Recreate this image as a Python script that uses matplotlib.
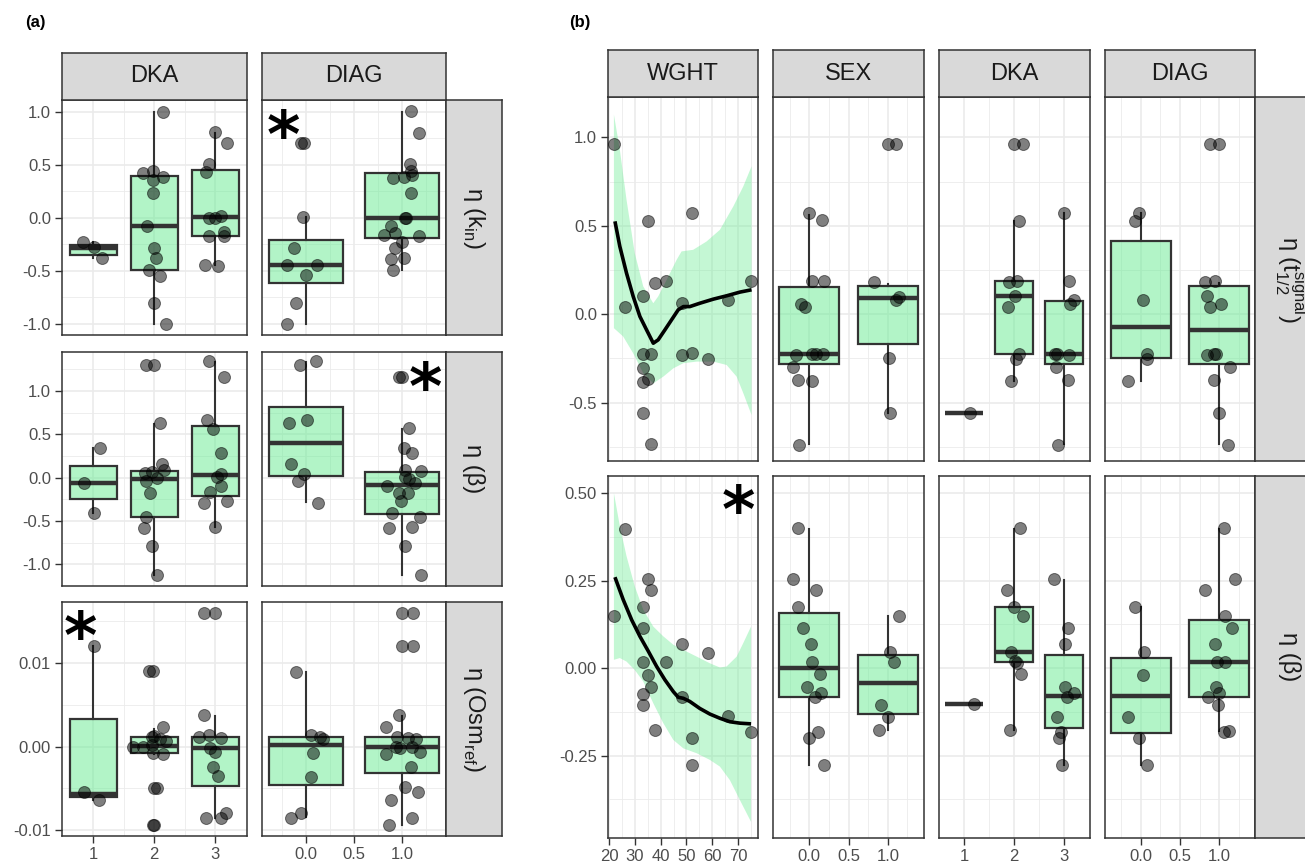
import numpy as np
import matplotlib
matplotlib.use("Agg")
import matplotlib.pyplot as plt

plt.rcParams['font.family'] = ['Liberation Sans', 'DejaVu Sans']
plt.rcParams['mathtext.fontset'] = 'custom'
plt.rcParams['mathtext.rm'] = 'Liberation Sans'
plt.rcParams['axes.unicode_minus'] = False

# ---------------- data ----------------
# box stats per group: [q1, median, q3, whisker low, whisker high]
dka_pos = [1, 2, 3]
bin_pos = [0, 1]

# (a) eta(k_in)
a_kin_dka_x = [0.84, 1.02, 1.15, 1.81, 1.98, 2.14, 1.98, 1.98, 2.14, 1.88, 2.0, 2.03, 1.92, 2.10, 2.0, 2.19,
               3.0, 3.19, 2.9, 2.85, 2.89, 3.0, 3.1, 3.15, 2.9, 3.15, 2.84, 3.04]
a_kin_dka_y = [-0.23, -0.27, -0.38, 0.42, 0.44, 0.39, 0.36, 0.24, 1.0, -0.08, -0.28, -0.38, -0.49, -0.55, -0.80, -1.0,
               0.81, 0.71, 0.51, 0.43, 0.0, 0.0, 0.02, -0.13, -0.17, -0.17, -0.44, -0.45]
a_kin_dka_box = [[-0.346, -0.283, -0.258, -0.38, -0.23],
                 [-0.494, -0.079, 0.393, -1.0, 1.0],
                 [-0.173, 0.009, 0.45, -0.44, 0.80]]
a_kin_diag_x = [-0.05, -0.02, -0.03, -0.13, -0.2, 0.11, 0.0, -0.11, -0.2,
                1.09, 1.18, 1.08, 1.09, 1.11, 0.91, 1.02, 1.09, 1.04, 1.03, 0.89, 0.81, 0.93, 1.18, 1.0, 0.93,
                0.89, 1.02, 0.91]
a_kin_diag_y = [0.71, 0.71, 0.01, -0.28, -0.44, -0.44, -0.54, -0.80, -1.0,
                1.01, 0.80, 0.51, 0.44, 0.41, 0.38, 0.39, 0.24, 0.0, 0.0, -0.08, -0.16, -0.14, -0.17, -0.23, -0.28,
                -0.39, -0.38, -0.49]
a_kin_diag_box = [[-0.613, -0.44, -0.211, -1.0, 0.013],
                  [-0.189, 0.0, 0.425, -0.49, 1.0]]

# (a) eta(beta)
a_beta_dka_x = [0.85, 1.12, 1.01,
                1.87, 2.0, 2.09, 2.12, 2.16, 1.96, 1.85, 1.87, 2.05, 1.93, 1.86, 1.83, 1.97, 2.05,
                2.89, 3.15, 2.86, 2.97, 3.09, 3.1, 3.03, 3.09, 2.92, 2.82, 3.2, 3.0]
a_beta_dka_y = [-0.06, 0.34, -0.41,
                1.30, 1.30, 0.63, 0.16, 0.09, 0.07, 0.05, -0.035, 0.0, -0.18, -0.45, -0.58, -0.79, -1.12,
                1.35, 1.16, 0.67, 0.56, 0.29, 0.04, 0.01, -0.10, -0.17, -0.29, -0.27, -0.57]
a_beta_dka_box = [[-0.246, -0.058, 0.138, -0.41, 0.338],
                  [-0.458, -0.015, 0.077, -1.123, 0.615],
                  [-0.208, 0.031, 0.596, -0.565, 1.338]]
a_beta_diag_x = [-0.06, 0.10, -0.18, 0.01, -0.16, -0.02, -0.08, 0.12,
                 0.97, 1.0, 1.07, 1.02, 1.11, 1.03, 1.2, 1.03, 1.07, 1.14, 0.84, 0.97, 1.06, 0.99, 0.90, 1.19,
                 0.87, 1.10, 1.03, 1.2]
a_beta_diag_y = [1.30, 1.35, 0.63, 0.67, 0.16, 0.04, -0.04, -0.29,
                 1.16, 1.16, 0.57, 0.34, 0.29, 0.09, 0.08, 0.01, -0.015, -0.065, -0.10, -0.18, -0.18, -0.27, -0.41,
                 -0.45, -0.58, -0.565, -0.785, -1.12]
a_beta_diag_box = [[0.023, 0.404, 0.819, -0.285, 1.338],
                   [-0.419, -0.085, 0.062, -1.123, 0.558]]

# (a) eta(Osm_ref)
a_osm_dka_x = [1.02, 0.85, 1.1,
               1.92, 1.98, 2.15, 2.0, 1.96, 2.1, 2.2, 1.66, 1.82, 1.96, 1.98, 2.14, 2.0, 2.04, 1.98, 2.0,
               2.82, 3.0, 2.81, 2.74, 2.9, 3.09, 2.91, 3.0, 2.96, 3.05, 2.85, 3.1, 3.18]
a_osm_dka_y = [0.0120, -0.0054, -0.0064,
               0.0090, 0.0090, 0.0023, 0.0013, 0.0012, 0.0009, 0.0007, -0.0001, 0.0, 0.0002, -0.0008, -0.0009,
               -0.0049, -0.0049, -0.0094, -0.0094,
               0.016, 0.016, 0.00375, 0.00114, 0.00138, 0.00099, -0.00012, -0.00063, -0.00249, -0.00355,
               -0.00852, -0.00852, -0.00789]
a_osm_dka_box = [[-0.00604, -0.0057, 0.00331, -0.0064, 0.012],
                 [-0.00079, 0.00008, 0.00114, -0.0009, 0.00213],
                 [-0.00473, -0.0002, 0.00114, -0.0085, 0.0037]]
a_osm_diag_x = [-0.11, 0.05, 0.15, 0.18, 0.07, 0.05, -0.05, -0.16,
                1.0, 1.12, 1.0, 1.12, 0.97, 0.83, 0.95, 1.06, 1.15, 0.94, 0.83, 0.98, 1.1, 1.19, 1.09, 1.03, 1.17,
                0.89, 1.10, 0.86]
a_osm_diag_y = [0.00895, 0.00138, 0.00114, 0.00087, -0.00071, -0.00359, -0.00793, -0.00852,
                0.016, 0.016, 0.012, 0.012, 0.00375, 0.00233, 0.00118, 0.00107, 0.00087, -0.0001, -0.00083,
                -0.00012, 0.0, -0.0006, -0.00249, -0.00485, -0.00544, -0.00643, -0.00852, -0.00939]
a_osm_diag_box = [[-0.00465, 0.0002, 0.00118, -0.0084, 0.00895],
                  [-0.00316, -0.0001, 0.00118, -0.0094, 0.0037]]

# (b) eta(t1/2 signal)
t_wght_x = [21.8, 26.1, 33.0, 34.9, 33.0, 36.2, 33.0, 33.0, 35.2, 33.0, 36.2, 37.7, 41.9, 48.1, 48.1, 52.0, 52.0,
            58.2, 66.2, 75.1]
t_wght_y = [0.964, 0.043, 0.104, 0.525, -0.225, -0.225, -0.302, -0.381, -0.366, -0.56, -0.736, 0.175, 0.185,
            0.062, -0.23, 0.572, -0.221, -0.253, 0.081, 0.185]
t_fit_x = [22.2, 24.1, 26.7, 29.3, 31.9, 34.5, 37.1, 39.0, 41.6, 44.2, 46.8, 48.8, 51.3, 55.2, 60.4, 65.6, 70.8,
           75.3]
t_fit_y = [0.525, 0.383, 0.232, 0.10, -0.013, -0.089, -0.164, -0.145, -0.089, -0.032, 0.025, 0.043, 0.043,
           0.062, 0.085, 0.104, 0.125, 0.138]
t_hi_x = [21.8, 24.1, 26.7, 29.9, 33.2, 37.1, 39.0, 42.3, 46.2, 48.1, 52.6, 57.8, 63.0, 68.2, 72.1, 75.3]
t_hi_y = [1.128, 0.93, 0.647, 0.345, 0.157, 0.062, 0.10, 0.194, 0.308, 0.355, 0.364, 0.411, 0.477, 0.609,
          0.723, 0.836]
t_lo_x = [21.8, 25.4, 29.3, 33.2, 37.1, 41.0, 44.9, 48.8, 54.0, 60.4, 65.6, 69.5, 72.1, 75.3]
t_lo_y = [-0.079, -0.126, -0.221, -0.334, -0.391, -0.353, -0.306, -0.277, -0.268, -0.268, -0.287, -0.353,
          -0.447, -0.57]
t_sex_x = [0.0, 0.16, 0.04, 0.19, -0.11, -0.05, -0.17, 0.04, 0.09, 0.18, -0.2, -0.14, 0.03, -0.13,
           1.0, 1.11, 0.83, 1.14, 1.11, 1.01, 1.03]
t_sex_y = [0.57, 0.53, 0.185, 0.185, 0.06, 0.043, -0.23, -0.225, -0.225, -0.225, -0.30, -0.37, -0.38, -0.74,
           0.96, 0.96, 0.18, 0.10, 0.08, -0.25, -0.56]
t_sex_box = [[-0.283, -0.225, 0.151, -0.736, 0.562],
             [-0.17, 0.094, 0.157, -0.56, 0.17]]
t_dka_x = [1.11,
           2.0, 2.17, 2.09, 1.89, 2.05, 2.02, 1.87, 2.09, 2.04, 1.94,
           3.0, 3.09, 3.19, 3.11, 2.81, 2.85, 3.09, 2.84, 3.07, 2.87]
t_dka_y = [-0.56,
           0.96, 0.96, 0.525, 0.18, 0.185, 0.104, 0.043, -0.225, -0.253, -0.375,
           0.57, 0.185, 0.08, 0.06, -0.225, -0.225, -0.23, -0.30, -0.37, -0.74]
t_dka_box = [[-0.56, -0.56, -0.56, -0.56, -0.56],
             [-0.225, 0.104, 0.185, -0.375, 0.525],
             [-0.283, -0.225, 0.075, -0.736, 0.572]]
t_diag_x = [-0.03, -0.07, 0.03, 0.08, 0.08, -0.16,
            0.89, 1.0, 0.82, 0.95, 0.84, 0.88, 1.03, 0.84, 0.93, 0.96, 1.14, 0.94, 1.0, 1.11]
t_diag_y = [0.57, 0.525, 0.08, -0.225, -0.253, -0.375,
            0.96, 0.96, 0.18, 0.185, 0.104, 0.043, 0.058, -0.23, -0.225, -0.225, -0.30, -0.37, -0.56, -0.74]
t_diag_box = [[-0.249, -0.07, 0.415, -0.375, 0.572],
              [-0.283, -0.089, 0.157, -0.736, 0.179]]

# (b) eta(beta)
b_wght_x = [21.8, 26.1, 33.0, 33.2, 33.0, 35.2, 36.2, 33.0, 33.0, 34.9, 36.2, 37.7, 42.0, 48.1, 48.4, 52.0, 52.0,
            58.2, 66.2, 75.1]
b_wght_y = [0.148, 0.399, 0.174, 0.115, 0.019, -0.019, -0.055, -0.073, -0.105, 0.255, 0.224, -0.177, 0.019,
            0.069, -0.081, -0.198, -0.277, 0.043, -0.136, -0.181]
b_fit_x = [22.2, 25.4, 28.7, 31.9, 35.2, 38.4, 41.6, 44.9, 46.8, 48.8, 51.3, 55.2, 59.1, 63.0, 66.9, 70.8, 75.1]
b_fit_y = [0.26, 0.196, 0.138, 0.091, 0.048, 0.005, -0.033, -0.067, -0.083, -0.086, -0.095, -0.115, -0.131,
           -0.143, -0.153, -0.157, -0.159]
b_hi_x = [21.8, 24.1, 26.7, 29.9, 33.2, 37.1, 41.0, 44.9, 48.8, 54.0, 59.1, 63.0, 65.6, 69.5, 72.1, 75.1]
b_hi_y = [0.50, 0.406, 0.32, 0.234, 0.167, 0.119, 0.091, 0.067, 0.052, 0.033, 0.014, 0.002, 0.005, 0.033,
          0.072, 0.119]
b_lo_x = [21.8, 24.1, 26.7, 29.9, 33.2, 37.1, 41.0, 44.9, 48.8, 54.0, 59.1, 63.0, 66.9, 70.8, 75.1]
b_lo_y = [0.024, 0.029, 0.019, -0.005, -0.038, -0.10, -0.157, -0.205, -0.229, -0.243, -0.262, -0.281, -0.32,
          -0.377, -0.439]
b_sex_x = [-0.14, -0.2, 0.09, -0.14, -0.08, 0.02, 0.03, 0.14, -0.03, 0.15, 0.08, 0.11, 0.0, 0.19,
           1.14, 1.03, 1.08, 0.91, 1.0, 0.89]
b_sex_y = [0.40, 0.255, 0.224, 0.174, 0.115, 0.069, 0.019, -0.017, -0.055, -0.072, -0.083, -0.181, -0.198, -0.277,
           0.148, 0.045, 0.017, -0.105, -0.138, -0.177]
b_sex_box = [[-0.081, 0.0, 0.157, -0.277, 0.399],
             [-0.132, -0.043, 0.038, -0.177, 0.148]]
b_dka_x = [1.19,
           2.11, 1.85, 1.99, 2.17, 1.93, 2.02, 2.05, 2.13, 1.92,
           2.8, 3.07, 3.02, 3.01, 3.19, 3.05, 2.85, 2.94, 2.9, 2.95]
b_dka_y = [-0.103,
           0.40, 0.224, 0.174, 0.15, 0.045, 0.021, 0.016, -0.017, -0.177,
           0.255, 0.115, 0.069, -0.055, -0.072, -0.081, -0.138, -0.181, -0.198, -0.277]
b_dka_box = [[-0.103, -0.103, -0.103, -0.103, -0.103],
             [0.017, 0.045, 0.174, -0.177, 0.399],
             [-0.17, -0.078, 0.038, -0.277, 0.253]]
b_diag_x = [-0.08, 0.04, 0.03, -0.16, -0.02, 0.08,
            1.06, 1.2, 0.82, 1.07, 1.16, 0.95, 0.97, 1.08, 0.96, 1.0, 0.86, 0.98, 1.06, 1.13]
b_diag_y = [0.174, 0.045, -0.019, -0.138, -0.198, -0.277,
            0.40, 0.255, 0.224, 0.15, 0.115, 0.069, 0.017, 0.019, -0.055, -0.072, -0.083, -0.105, -0.181, -0.178]
b_diag_box = [[-0.184, -0.078, 0.029, -0.277, 0.174],
              [-0.081, 0.019, 0.138, -0.178, 0.399]]

# ---------------- styling ----------------
W, H = 1305, 867
FILL = (0.40, 0.92, 0.57, 0.5)
BAND = (0.45, 0.93, 0.60, 0.42)
DARK = '#333333'

fig = plt.figure(figsize=(W / 100, H / 100), dpi=100)


def px_axes(x0, y0, x1, y1):
    return fig.add_axes([x0 / W, 1 - y1 / H, (x1 - x0) / W, (y1 - y0) / H])


def strip(x0, y0, x1, y1, label, rot=0):
    ax = px_axes(x0, y0, x1, y1)
    ax.set_facecolor('#d9d9d9')
    ax.set_xticks([])
    ax.set_yticks([])
    for s in ax.spines.values():
        s.set_color(DARK)
        s.set_linewidth(1.1)
    ax.text(0.5, 0.5, label, transform=ax.transAxes, ha='center', va='center',
            rotation=rot, fontsize=17, color='#1a1a1a')


def setup(ax, xlim, xmaj, xmin, xlab, ylim, ymaj, ymin, ylab, left, bottom):
    ax.set_xlim(xlim)
    ax.set_ylim(ylim)
    ax.set_xticks(xmaj)
    ax.set_xticklabels(xlab)
    ax.set_xticks(xmin, minor=True)
    ax.set_yticks(ymaj)
    ax.set_yticklabels(ylab)
    ax.set_yticks(ymin, minor=True)
    ax.grid(which='major', color='#ebebeb', lw=1.2)
    ax.grid(which='minor', color='#ebebeb', lw=0.6)
    ax.set_axisbelow(True)
    for s in ax.spines.values():
        s.set_color(DARK)
        s.set_linewidth(1.1)
    ax.tick_params(which='minor', length=0)
    ax.tick_params(which='major', length=5, width=1.0, color=DARK, labelcolor='#4d4d4d',
                   labelsize=12, pad=3, left=left, labelleft=left, bottom=bottom, labelbottom=bottom)


def boxes(ax, pos, stats, width=0.77):
    st = [dict(q1=s[0], med=s[1], q3=s[2], whislo=s[3], whishi=s[4], fliers=[]) for s in stats]
    ax.bxp(st, positions=pos, widths=width, showfliers=False, showcaps=False, patch_artist=True,
           manage_ticks=False,
           boxprops=dict(facecolor=FILL, edgecolor=DARK, linewidth=1.6),
           whiskerprops=dict(color=DARK, linewidth=1.5),
           medianprops=dict(color=DARK, linewidth=3.2, solid_capstyle='butt'))


def points(ax, x, y):
    ax.scatter(x, y, s=74, c='black', alpha=0.5, edgecolors='black', linewidths=0.7, zorder=3)


def star(ax, x, y):
    # glyph sits high in its box, so nudge it down a few pixels
    ax.annotate('*', (x, y), xytext=(0, -10), textcoords='offset pixels', fontsize=46,
                fontweight='bold', family='DejaVu Sans', ha='center', va='center', color='black', zorder=5)


dka_lim = (0.49, 3.52)
dka_maj, dka_min, dka_lab = [1, 2, 3], [1.5, 2.5], ['1', '2', '3']
bin_lim = (-0.46, 1.46)
bin_maj, bin_min, bin_lab = [0, 0.5, 1.0], [-0.25, 0.25, 0.75, 1.25], ['0.0', '0.5', '1.0']
w_lim = (19.5, 77.8)
w_maj, w_min = [20, 30, 40, 50, 60, 70], [25, 35, 45, 55, 65, 75]
w_lab = ['20', '30', '40', '50', '60', '70']

# ---------------- panel (a) ----------------
a_cols = [(62, 247), (262, 446)]
a_rows = [(100, 335), (352, 586), (602, 836)]
a_ylims = [(-1.104, 1.113), (-1.25, 1.45), (-0.0107, 0.0173)]
a_ymaj = [[-1.0, -0.5, 0.0, 0.5, 1.0], [-1.0, -0.5, 0.0, 0.5, 1.0], [-0.01, 0.0, 0.01]]
a_ymin = [[-0.75, -0.25, 0.25, 0.75], [-0.75, -0.25, 0.25, 0.75, 1.25], [-0.005, 0.005, 0.015]]
a_ylab = [['-1.0', '-0.5', '0.0', '0.5', '1.0'], ['-1.0', '-0.5', '0.0', '0.5', '1.0'], ['-0.01', '0.00', '0.01']]
a_data = [
    [(a_kin_dka_x, a_kin_dka_y, a_kin_dka_box), (a_kin_diag_x, a_kin_diag_y, a_kin_diag_box)],
    [(a_beta_dka_x, a_beta_dka_y, a_beta_dka_box), (a_beta_diag_x, a_beta_diag_y, a_beta_diag_box)],
    [(a_osm_dka_x, a_osm_dka_y, a_osm_dka_box), (a_osm_diag_x, a_osm_diag_y, a_osm_diag_box)],
]
a_row_labels = [r'η (k$_{\mathrm{in}}$)', 'η (β)', r'η (Osm$_{\mathrm{ref}}$)']
a_axes = {}
for r, (y0, y1) in enumerate(a_rows):
    for c, (x0, x1) in enumerate(a_cols):
        ax = px_axes(x0, y0, x1, y1)
        if c == 0:
            setup(ax, dka_lim, dka_maj, dka_min, dka_lab, a_ylims[r], a_ymaj[r], a_ymin[r], a_ylab[r],
                  True, r == 2)
            pos = dka_pos
        else:
            setup(ax, bin_lim, bin_maj, bin_min, bin_lab, a_ylims[r], a_ymaj[r], a_ymin[r], a_ylab[r],
                  False, r == 2)
            pos = bin_pos
        px, py, st = a_data[r][c]
        boxes(ax, pos, st)
        points(ax, px, py)
        a_axes[(r, c)] = ax
    strip(446, y0, 502, y1, a_row_labels[r], rot=-90)
strip(62, 53, 247, 100, 'DKA')
strip(262, 53, 446, 100, 'DIAG')
star(a_axes[(0, 1)], -0.24, 0.84)
star(a_axes[(1, 1)], 1.24, 1.12)
star(a_axes[(2, 0)], 0.79, 0.0140)

# ---------------- panel (b) ----------------
b_cols = [(608, 758), (773, 924), (939, 1090), (1105, 1255)]
b_rows = [(97, 461), (476, 838)]
b_ylims = [(-0.83, 1.228), (-0.485, 0.549)]
b_ymaj = [[-0.5, 0.0, 0.5, 1.0], [-0.25, 0.0, 0.25, 0.5]]
b_ymin = [[-0.75, -0.25, 0.25, 0.75], [-0.375, -0.125, 0.125, 0.375]]
b_ylab = [['-0.5', '0.0', '0.5', '1.0'], ['-0.25', '0.00', '0.25', '0.50']]
b_smooth = [(t_wght_x, t_wght_y, t_fit_x, t_fit_y, t_hi_x, t_hi_y, t_lo_x, t_lo_y),
            (b_wght_x, b_wght_y, b_fit_x, b_fit_y, b_hi_x, b_hi_y, b_lo_x, b_lo_y)]
b_box = [[(t_sex_x, t_sex_y, t_sex_box), (t_dka_x, t_dka_y, t_dka_box), (t_diag_x, t_diag_y, t_diag_box)],
         [(b_sex_x, b_sex_y, b_sex_box), (b_dka_x, b_dka_y, b_dka_box), (b_diag_x, b_diag_y, b_diag_box)]]
b_row_labels = [r'η (t$^{\mathrm{signal}}_{\mathrm{1/2}}$)', 'η (β)']
b_axes = {}
for r, (y0, y1) in enumerate(b_rows):
    for c, (x0, x1) in enumerate(b_cols):
        ax = px_axes(x0, y0, x1, y1)
        bottom = r == 1
        if c == 0:
            setup(ax, w_lim, w_maj, w_min, w_lab, b_ylims[r], b_ymaj[r], b_ymin[r], b_ylab[r], True, bottom)
            wx, wy, fx, fy, hx, hy, lx, ly = b_smooth[r]
            ax.fill(np.r_[hx, lx[::-1]], np.r_[hy, ly[::-1]], color=BAND, lw=0, zorder=1)
            points(ax, wx, wy)
            ax.plot(fx, fy, color='black', lw=2.6, zorder=4, solid_capstyle='butt')
        else:
            if c == 2:
                setup(ax, dka_lim, dka_maj, dka_min, dka_lab, b_ylims[r], b_ymaj[r], b_ymin[r], b_ylab[r],
                      False, bottom)
                pos = dka_pos
            else:
                setup(ax, bin_lim, bin_maj, bin_min, bin_lab, b_ylims[r], b_ymaj[r], b_ymin[r], b_ylab[r],
                      False, bottom)
                pos = bin_pos
            px, py, st = b_box[r][c - 1]
            boxes(ax, pos, st, width=0.76)
            points(ax, px, py)
        b_axes[(r, c)] = ax
    strip(1255, y0, 1325, y1, b_row_labels[r], rot=-90)
for (x0, x1), name in zip(b_cols, ['WGHT', 'SEX', 'DKA', 'DIAG']):
    strip(x0, 50, x1, 97, name)
star(b_axes[(1, 0)], 70.1, 0.47)

fig.text(35 / W, 1 - 23 / H, '(a)', fontsize=12, fontweight='bold', ha='center', va='center')
fig.text(580 / W, 1 - 22 / H, '(b)', fontsize=12, fontweight='bold', ha='center', va='center')

fig.savefig('out.png', dpi=100)
